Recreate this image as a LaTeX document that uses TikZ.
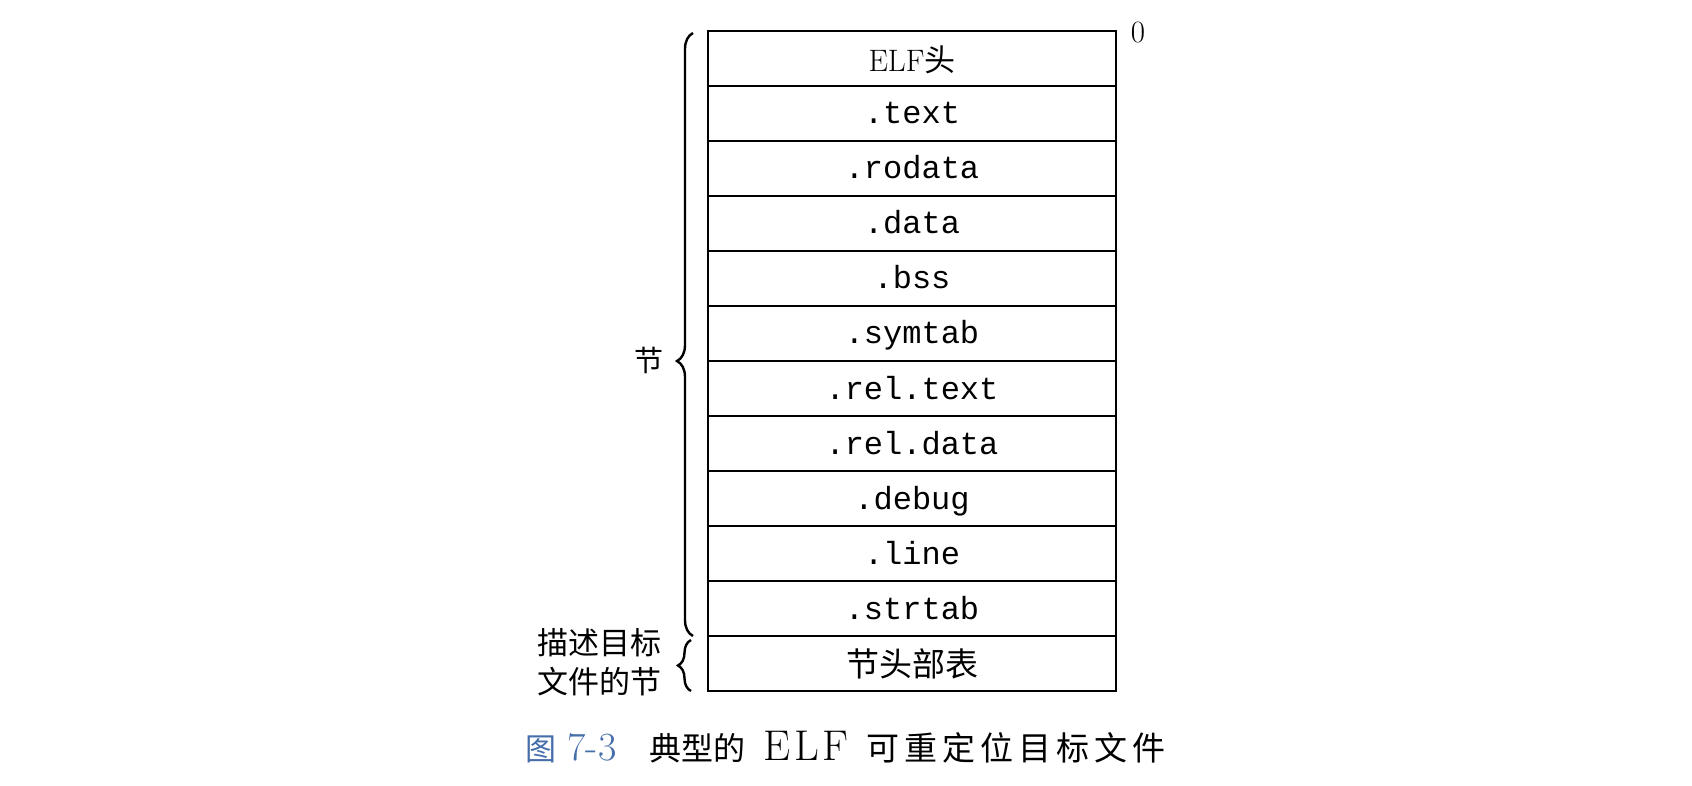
\documentclass[tikz,border=0pt]{standalone}
\usepackage{fontspec}
\newfontfamily\cjk{Noto Sans CJK SC}
\newfontfamily\capcjk[LetterSpace=15]{Noto Sans CJK SC}
\newfontfamily\monof{Liberation Mono}
\newfontfamily\caplat[LetterSpace=8]{Latin Modern Roman}
\usetikzlibrary{decorations.pathreplacing}
\definecolor{capblue}{RGB}{70,110,170}
\begin{document}
\begin{tikzpicture}[x=1pt,y=-1pt,
  row/.style={draw, line width=2.7pt, minimum width=408pt, minimum height=55pt,
    inner sep=0pt, font=\monof\fontsize{32}{32}\selectfont,
    text height=26pt, text depth=5pt},
  brc/.style={draw, line width=2.4pt, decorate},
  lab/.style={inner sep=0pt, font=\cjk\fontsize{31}{39}\selectfont, align=center},
  capcn/.style={inner sep=0pt, anchor=base, font=\cjk\fontsize{32}{32}\selectfont},
  caplt/.style={inner sep=0pt, anchor=base, font=\fontsize{40}{40}\selectfont}]
\useasboundingbox (0,0) rectangle (1692,786);
\fill[white] (0,0) rectangle (1692,786);
% rows
\node[row, font=\fontsize{31}{31}\selectfont, text height=28pt, text depth=1pt] (r1) at (912,58.5) {ELF{\cjk 头}};
\node[row] (r2) at (912,113.5) {.text};
\node[row] (r3) at (912,168.5) {.rodata};
\node[row] (r4) at (912,223.5) {.data};
\node[row] (r5) at (912,278.5) {.bss};
\node[row] (r6) at (912,333.5) {.symtab};
\node[row] (r7) at (912,388.5) {.rel.text};
\node[row] (r8) at (912,443.5) {.rel.data};
\node[row] (r9) at (912,498.5) {.debug};
\node[row] (r10) at (912,553.5) {.line};
\node[row] (r11) at (912,608.5) {.strtab};
\node[row, font=\cjk\fontsize{33}{33}\selectfont, text height=29pt, text depth=4pt] (r12) at (912,663.5) {节头部表};
% offset label
\node[inner sep=0pt, anchor=base, font=\fontsize{31}{31}\selectfont] (zero) at (1138,43) {0};
% braces
\coordinate (bA1) at (693,636);
\coordinate (bA2) at (693,33);
\coordinate (bB1) at (691,691);
\coordinate (bB2) at (691,640);
\draw[brc, decoration={brace, amplitude=16pt, aspect=0.456}] (bA1) -- (bA2);
\draw[brc, decoration={brace, amplitude=13pt, aspect=0.5}] (bB1) -- (bB2);
\node[lab, font=\cjk\fontsize{29}{29}\selectfont] (jie) at (649,360) {节};
\node[lab] (desc) at (599,662) {描述目标\\文件的节};
% caption
\node[capcn, font=\cjk\fontsize{31}{31}\selectfont, text=capblue] (tu) at (541,760) {图};
\node[caplt, text=capblue] (num) at (592,760) {7-3};
\node[capcn] (dx) at (697,760) {典型的};
\node[caplt, font=\caplat\fontsize{43}{43}\selectfont] (elf) at (806,760) {ELF};
\node[capcn, font=\capcjk\fontsize{33}{33}\selectfont] (kcd) at (1016,760) {可重定位目标文件};
\end{tikzpicture}
\end{document}
